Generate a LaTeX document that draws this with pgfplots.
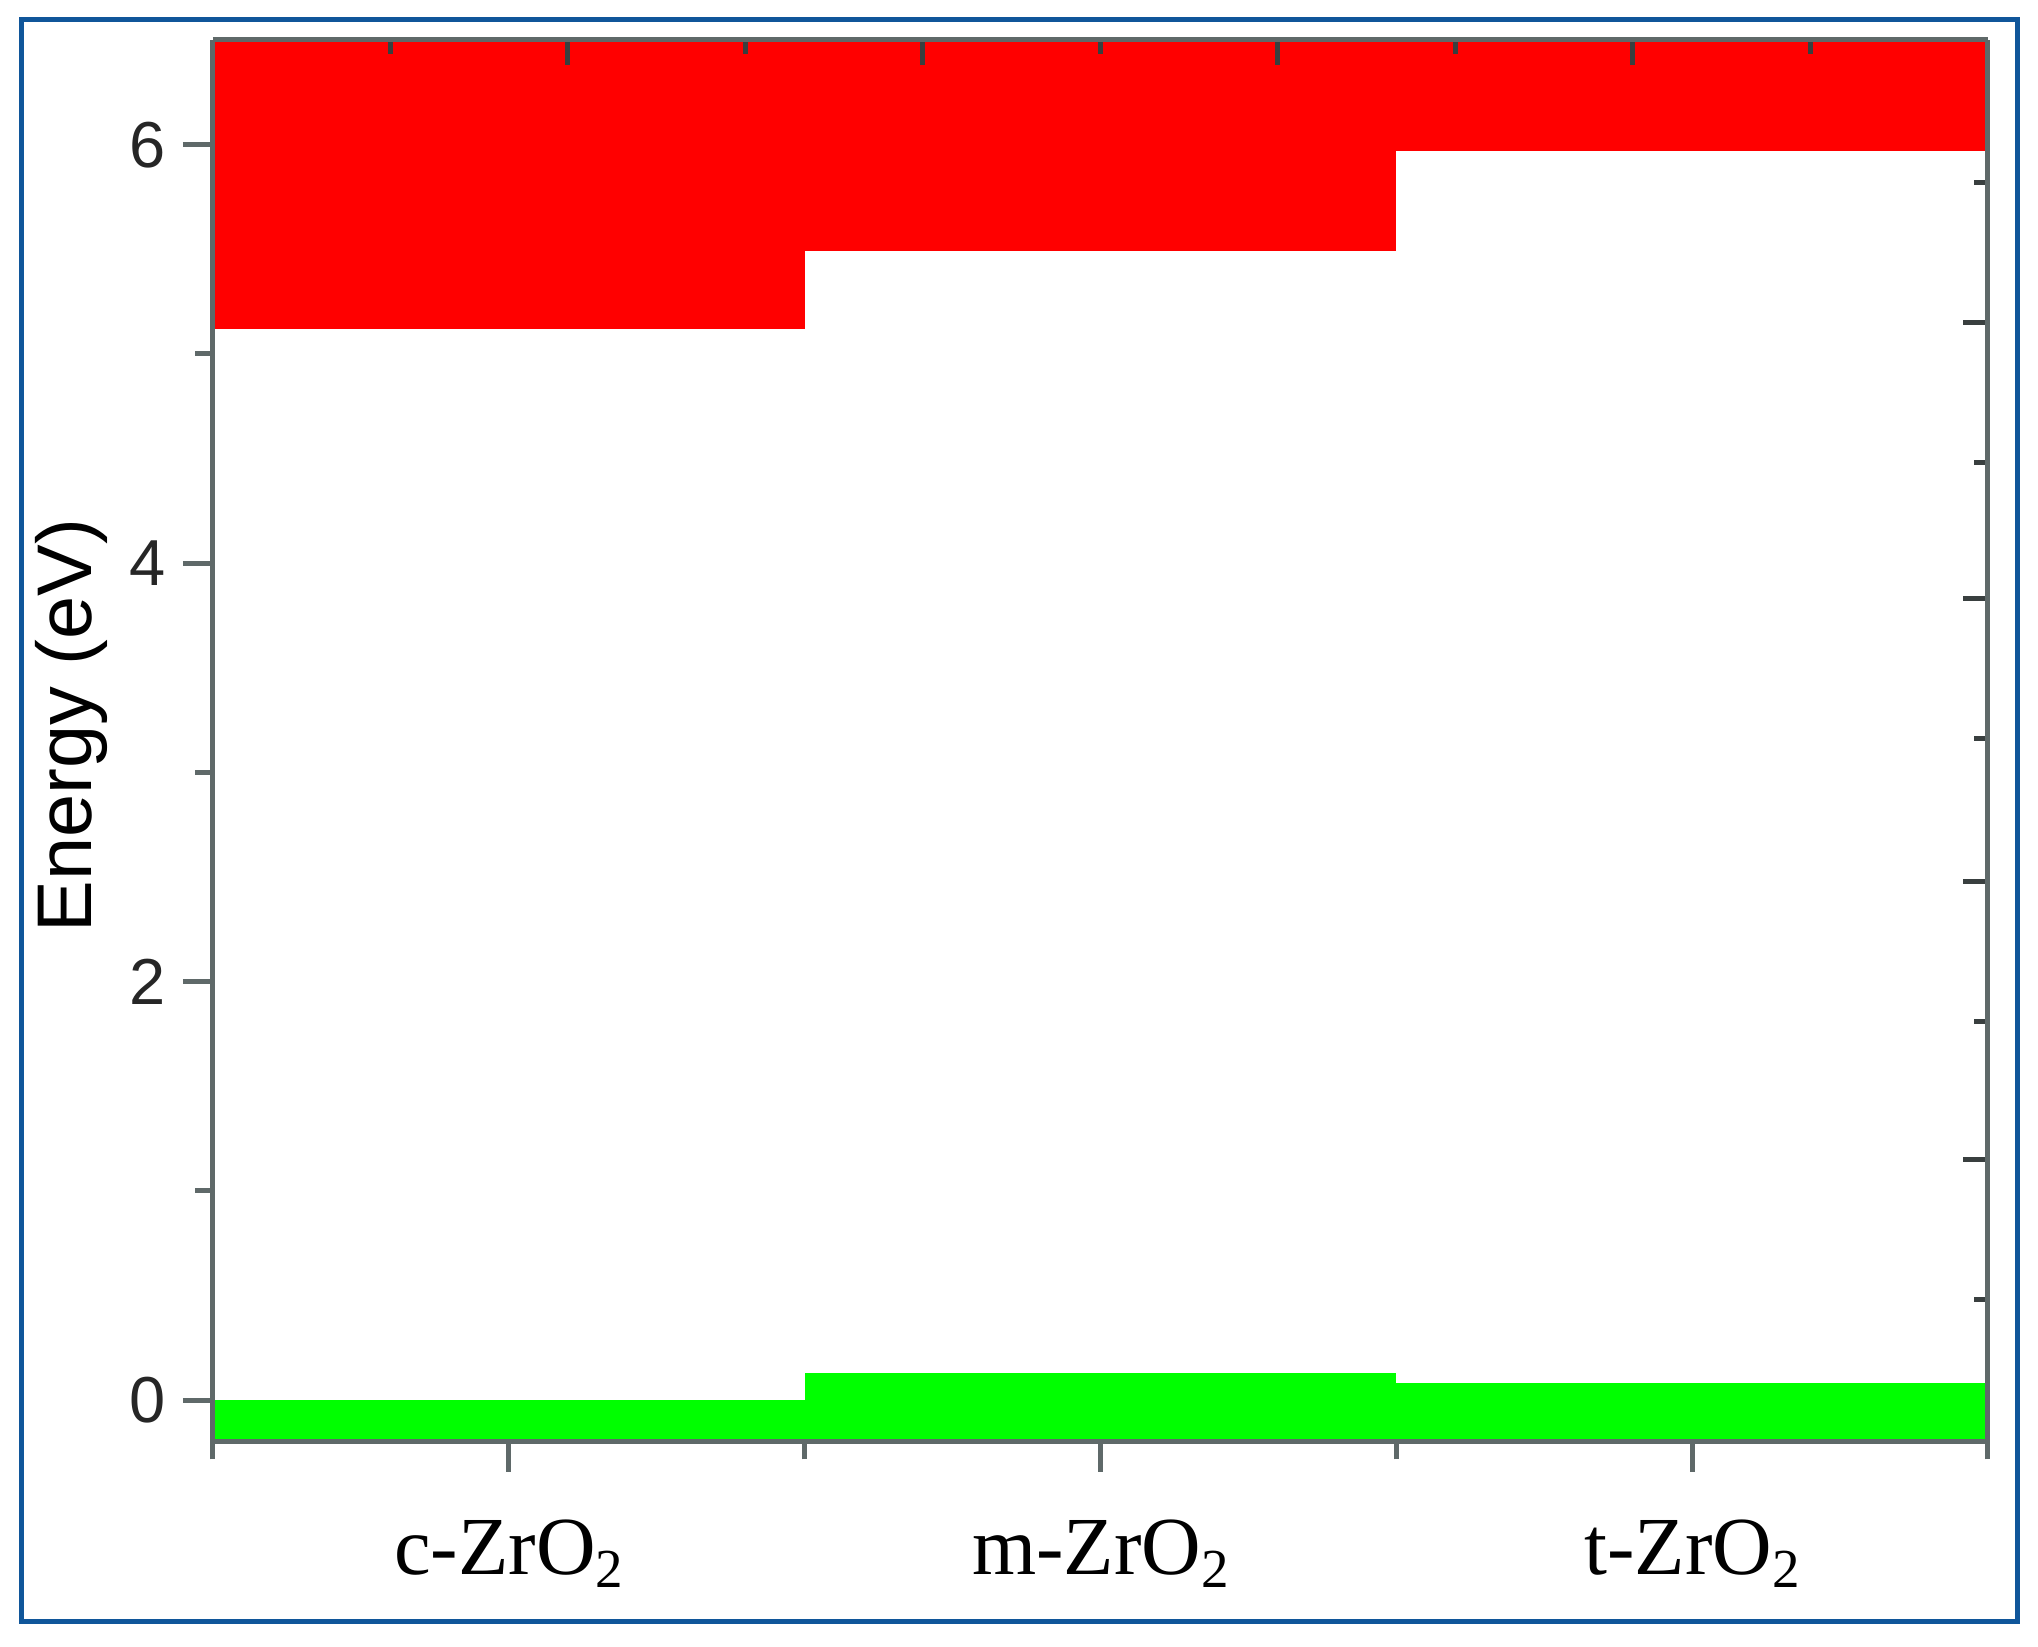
\documentclass[border=0pt]{standalone}
\usepackage{pgfplots}
\pgfplotsset{compat=1.18}
\usepackage{fontspec}
\setmainfont{Liberation Serif}
\newfontfamily\arial{Liberation Sans}
\definecolor{frameblue}{RGB}{16,86,154}
\definecolor{axgray}{RGB}{95,105,105}
\definecolor{cbred}{RGB}{255,0,0}
\definecolor{vbgreen}{RGB}{0,255,0}
\newcommand{\sub}[1]{\raisebox{-0.35ex}{\fontsize{11}{11}\selectfont #1}}
\begin{document}
\begin{tikzpicture}
\useasboundingbox (-42.6pt,-41pt) rectangle (365pt,288.4pt);
\draw[frameblue, line width=1pt] (-38.2pt,-36pt) rectangle (360.8pt,284.4pt);
\begin{axis}[
  at={(0pt,0pt)}, anchor=south west,
  scale only axis, width=355pt, height=280.4pt,
  xmin=0, xmax=3, ymin=-0.2, ymax=6.5,
  axis x line*=bottom, axis y line*=left,
  axis line style={axgray, line width=1pt},
  axis on top,
  xtick={0.5,1.5,2.5},
  xticklabels={c-ZrO\sub{2}, m-ZrO\sub{2}, t-ZrO\sub{2}},
  minor xtick={0,1,2,3},
  ytick={0,2,4,6}, minor ytick={1,3,5},
  tick align=outside,
  major tick length=6pt, minor tick length=3.5pt,
  tick style={axgray, line width=1pt},
  /pgf/number format/assume math mode=true,
  yticklabel style={font=\arial\fontsize{13}{13}\selectfont, text=black!85},
  xticklabel style={font=\fontsize{16.5}{16.5}\selectfont, anchor=base, yshift=-20.5pt},
  ylabel={Energy (eV)},
  every axis y label/.style={at={(axis description cs:-0.0797,0.511)}, rotate=90, anchor=center, font=\arial\fontsize{15.5}{15.5}\selectfont},
]
% conduction band (red), from CB minimum up to top of axis
\addplot[fill=cbred, draw=none] coordinates {(0,5.12) (1,5.12) (1,6.5) (0,6.5)} -- cycle;
\addplot[fill=cbred, draw=none] coordinates {(1,5.49) (2,5.49) (2,6.5) (1,6.5)} -- cycle;
\addplot[fill=cbred, draw=none] coordinates {(2,5.97) (3,5.97) (3,6.5) (2,6.5)} -- cycle;
% valence band (green), from bottom of axis up to VB maximum
\addplot[fill=vbgreen, draw=none] coordinates {(0,-0.2) (1,-0.2) (1,0.0) (0,0.0)} -- cycle;
\addplot[fill=vbgreen, draw=none] coordinates {(1,-0.2) (2,-0.2) (2,0.13) (1,0.13)} -- cycle;
\addplot[fill=vbgreen, draw=none] coordinates {(2,-0.2) (3,-0.2) (3,0.08) (2,0.08)} -- cycle;
\end{axis}
\begin{axis}[
  at={(0pt,0pt)}, anchor=south west,
  scale only axis, width=355pt, height=280.4pt,
  xmin=0, xmax=3, ymin=-0.2, ymax=6.5,
  axis x line*=top, axis y line*=right,
  axis line style={axgray, line width=1pt},
  xtick={0.6,1.2,1.8,2.4}, minor xtick={0.3,0.9,1.5,2.1,2.7},
  xticklabels={},
  ytick={1.15,2.48,3.83,5.15}, minor ytick={0.48,1.81,3.16,4.48,5.82},
  yticklabels={},
  tick align=inside,
  major tick length=5pt, minor tick length=2.8pt,
  tick style={axgray!60!black, line width=1pt},
]
\end{axis}
\end{tikzpicture}
\end{document}
